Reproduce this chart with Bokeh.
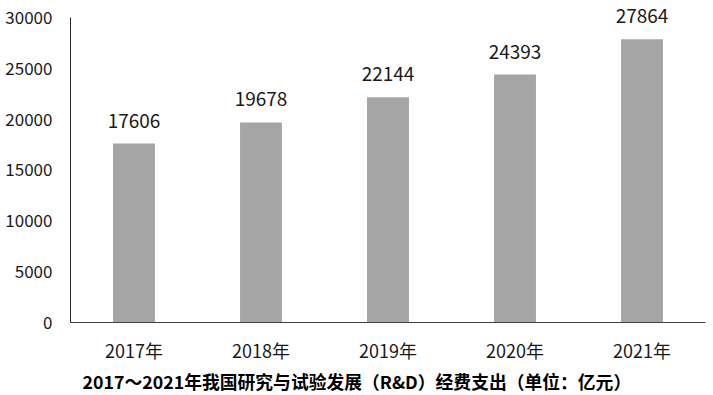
from bokeh.plotting import figure
from bokeh.models import Range1d, ColumnDataSource, Title, FactorRange
from bokeh.core.properties import value
from bokeh.embed import file_html
from bokeh.resources import INLINE

years = ["2017年", "2018年", "2019年", "2020年", "2021年"]
spending = [17606, 19678, 22144, 24393, 27864]
y_ticks = [0, 5000, 10000, 15000, 20000, 25000, 30000]
title_text = "2017～2021年我国研究与试验发展（R&D）经费支出（单位：亿元）"

FONT = "Noto Sans CJK SC"

src = ColumnDataSource(dict(x=years, top=spending, label=[str(v) for v in spending]))

p = figure(width=708, height=394, x_range=FactorRange(*years, range_padding=0),
           y_range=Range1d(0, 31475), output_backend="svg", toolbar_location=None,
           min_border_left=70, min_border_right=3, min_border_top=2, min_border_bottom=72)
p.outline_line_color = None
p.grid.grid_line_color = None

p.vbar(x="x", top="top", width=0.33, source=src, color="#a5a5a5", line_color=None)
p.text(x="x", y="top", text="label", source=src, text_align="center", text_baseline="alphabetic",
       y_offset=-23, text_font=value(FONT), text_font_size="19px", text_color="#1a1a1a")

p.yaxis.ticker = y_ticks
p.yaxis.bounds = (0, 30000)
p.yaxis.major_tick_line_color = None
p.yaxis.minor_tick_line_color = None
p.yaxis.major_tick_out = 0
p.yaxis.major_tick_in = 0
p.yaxis.axis_line_color = "#262626"
p.yaxis.major_label_standoff = 18
p.yaxis.major_label_text_font = FONT
p.yaxis.major_label_text_font_size = "17px"
p.yaxis.major_label_text_color = "#1a1a1a"

p.xaxis.major_tick_line_color = None
p.xaxis.minor_tick_line_color = None
p.xaxis.major_tick_out = 0
p.xaxis.major_tick_in = 0
p.xaxis.axis_line_color = "#404040"
p.xaxis.major_label_standoff = 14
p.xaxis.major_label_text_font = FONT
p.xaxis.major_label_text_font_size = "18px"
p.xaxis.major_label_text_color = "#1a1a1a"

t = Title(text=title_text, align="left", offset=12, text_font=FONT, text_font_size="17.8px",
          text_font_style="bold", text_color="#000000", standoff=1)
p.add_layout(t, "below")

open("out.html", "w").write(file_html(p, INLINE))
